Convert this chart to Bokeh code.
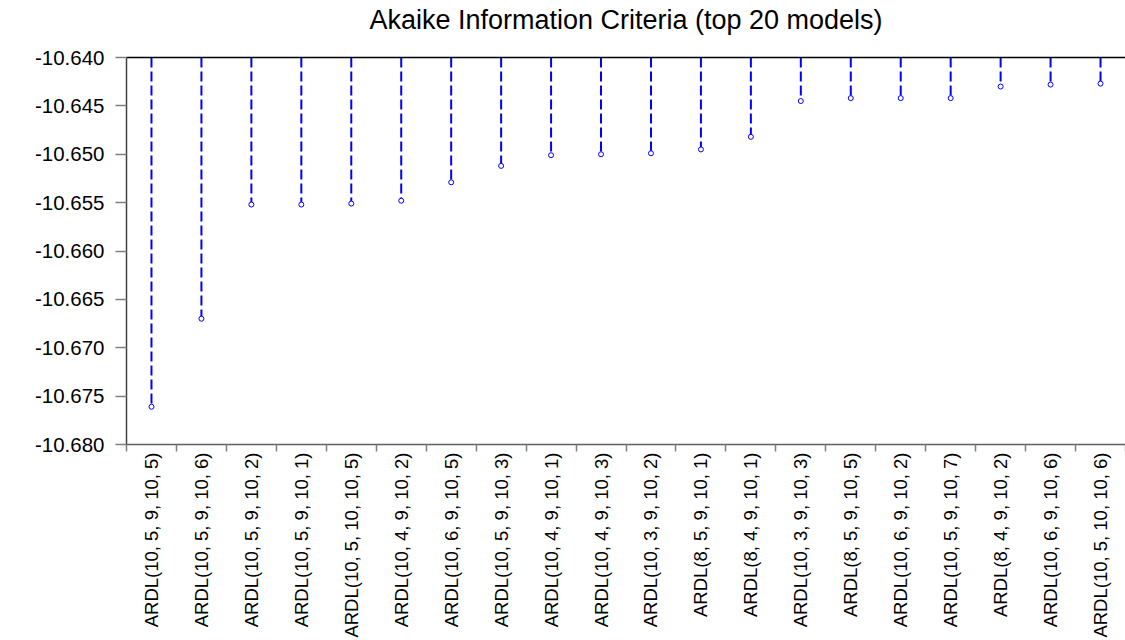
import math
from bokeh.plotting import figure
from bokeh.models import Range1d, FixedTicker, LinearAxis, PrintfTickFormatter, Title
from bokeh.embed import file_html
from bokeh.resources import INLINE

title_text = "Akaike Information Criteria (top 20 models)"

models = [
    "ARDL(10, 5, 9, 10, 5)",
    "ARDL(10, 5, 9, 10, 6)",
    "ARDL(10, 5, 9, 10, 2)",
    "ARDL(10, 5, 9, 10, 1)",
    "ARDL(10, 5, 10, 10, 5)",
    "ARDL(10, 4, 9, 10, 2)",
    "ARDL(10, 6, 9, 10, 5)",
    "ARDL(10, 5, 9, 10, 3)",
    "ARDL(10, 4, 9, 10, 1)",
    "ARDL(10, 4, 9, 10, 3)",
    "ARDL(10, 3, 9, 10, 2)",
    "ARDL(8, 5, 9, 10, 1)",
    "ARDL(8, 4, 9, 10, 1)",
    "ARDL(10, 3, 9, 10, 3)",
    "ARDL(8, 5, 9, 10, 5)",
    "ARDL(10, 6, 9, 10, 2)",
    "ARDL(10, 5, 9, 10, 7)",
    "ARDL(8, 4, 9, 10, 2)",
    "ARDL(10, 6, 9, 10, 6)",
    "ARDL(10, 5, 10, 10, 6)",
]

aic = [
    -10.6761, -10.6670, -10.6552, -10.6552, -10.6551,
    -10.6548, -10.6529, -10.6512, -10.6501, -10.6500,
    -10.6499, -10.6495, -10.6482, -10.6445, -10.6442,
    -10.6442, -10.6442, -10.6430, -10.6428, -10.6427,
]

y_ticks = [-10.680, -10.675, -10.670, -10.665, -10.660, -10.655, -10.650, -10.645, -10.640]

y_bottom = min(y_ticks)
y_top = max(y_ticks)

n = len(models)
xs = list(range(1, n + 1))
bounds = [i + 0.5 for i in range(0, n + 1)]
x_lo, x_hi = 0.5, n + 0.5

FONT = "Liberation Sans"

p = figure(
    width=1125, height=640, title=None,
    output_backend="svg", toolbar_location=None,
    x_range=Range1d(x_lo, x_hi), y_range=Range1d(y_bottom, y_top),
    min_border_left=126, min_border_right=0, min_border_top=57, min_border_bottom=196,
    x_axis_type=None, y_axis_type=None,
)
p.outline_line_color = None
p.background_fill_color = "white"
p.border_fill_color = "white"

# left axis
yaxis = LinearAxis(ticker=FixedTicker(ticks=y_ticks), formatter=PrintfTickFormatter(format="%.3f"))
yaxis.major_tick_out = 11
yaxis.major_tick_in = 0
yaxis.minor_tick_out = 0
yaxis.minor_tick_in = 0
yaxis.major_tick_line_color = "#808080"
yaxis.major_tick_line_width = 1.5
yaxis.axis_line_color = "#404040"
yaxis.axis_line_width = 1.5
yaxis.major_label_text_font = FONT
yaxis.major_label_text_font_size = "20.5px"
yaxis.major_label_text_color = "black"
yaxis.major_label_standoff = 11
p.add_layout(yaxis, "left")

# bottom axis: labels at centres, ticks at boundaries
xaxis = LinearAxis(ticker=FixedTicker(ticks=xs, minor_ticks=bounds))
xaxis.major_label_overrides = {x: m for x, m in zip(xs, models)}
xaxis.major_label_orientation = math.pi / 2
xaxis.major_tick_out = 0
xaxis.major_tick_in = 0
xaxis.minor_tick_out = 7
xaxis.minor_tick_in = 0
xaxis.minor_tick_line_color = "#808080"
xaxis.minor_tick_line_width = 1.5
xaxis.axis_line_color = "#606060"
xaxis.axis_line_width = 1.5
xaxis.major_label_text_font = FONT
xaxis.major_label_text_font_size = "18.5px"
xaxis.major_label_text_color = "black"
xaxis.major_label_standoff = 1
p.add_layout(xaxis, "below")

# top border line (with an invisible axis label used as spacing under the title)
taxis = LinearAxis(ticker=FixedTicker(ticks=[]))
taxis.major_tick_out = 0
taxis.major_tick_in = 0
taxis.minor_tick_out = 0
taxis.minor_tick_in = 0
taxis.major_label_text_font_size = "0px"
taxis.axis_line_color = "black"
taxis.axis_line_width = 1.5
taxis.axis_label = " "
taxis.axis_label_text_font_size = "12px"
taxis.axis_label_standoff = 6
p.add_layout(taxis, "above")

p.add_layout(Title(
    text=title_text, align="center", standoff=0,
    text_font=FONT, text_font_size="27px", text_font_style="normal", text_color="black",
), "above")

p.segment(x0=xs, y0=[y_top] * n, x1=xs, y1=aic,
          line_color="#0000ff", line_width=2, line_dash="10 4")
p.scatter(xs, aic, marker="circle", size=5, line_color="#0000ff",
          fill_color="white", line_width=1)

open("out.html", "w").write(file_html(p, INLINE))
